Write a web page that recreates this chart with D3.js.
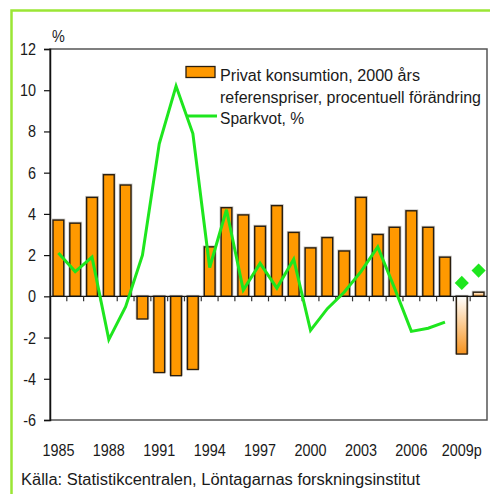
<!DOCTYPE html>
<html>
<head>
<meta charset="utf-8">
<script src="https://cdn.jsdelivr.net/npm/d3@7/dist/d3.min.js"></script>
<style>
  body { margin: 0; background: #fff; }
  text { font-family: "Liberation Sans", Arial, sans-serif; fill: #1a1a1a; }
</style>
</head>
<body>
<div id="chart"></div>
<script>
// categories (2009 and 2010 are forecasts)
var years = ['1985','1986','1987','1988','1989','1990','1991','1992','1993','1994',
  '1995','1996','1997','1998','1999','2000','2001','2002','2003','2004',
  '2005','2006','2007','2008','2009','2010'];
var tickYears = ['1985','1988','1991','1994','1997','2000','2003','2006','2009'];
var tickLabels = ['1985','1988','1991','1994','1997','2000','2003','2006','2009p'];
var yTicks = [-6, -4, -2, 0, 2, 4, 6, 8, 10, 12];

// Privat konsumtion, % change, 1985-2008
var consumption = [3.7, 3.55, 4.8, 5.9, 5.4, -1.1, -3.7, -3.85, -3.55, 2.4,
  4.3, 3.95, 3.4, 4.4, 3.1, 2.35, 2.85, 2.2, 4.8, 3.0,
  3.35, 4.15, 3.35, 1.9];
var consumptionForecast = [-2.8, 0.2];   // 2009, 2010

// Sparkvot, %, 1985-2008
var savings = [2.1, 1.2, 1.9, -2.1, -0.5, 2.0, 7.4, 10.2, 7.9, 1.4,
  4.2, 0.3, 1.6, 0.4, 1.8, -1.65, -0.6, 0.2, 1.2, 2.4,
  0.4, -1.7, -1.55, -1.25];
var savingsForecast = [0.65, 1.25];      // 2009, 2010

var W = 490, H = 494;
var orange = '#ff9900', green = '#1ee61e', dark = '#2a1e0e';

var svg = d3.select('#chart').append('svg')
  .attr('width', W).attr('height', H);

// outer green frame
svg.append('rect')
  .attr('x', 11.5).attr('y', 10.5)
  .attr('width', 490).attr('height', 490)
  .attr('fill', 'none')
  .attr('stroke', '#9be635')
  .attr('stroke-width', 2.5);

var x = d3.scaleBand().domain(years).range([50, 487])
  .paddingInner(0.36).paddingOuter(0.18);
var y = d3.scaleLinear().domain([-6, 12]).range([420, 49]);

var defs = svg.append('defs');
var grad = defs.append('linearGradient').attr('id', 'fc')
  .attr('x1', 0).attr('y1', 0).attr('x2', 0).attr('y2', 1);
grad.append('stop').attr('offset', '0%').attr('stop-color', '#ffffff');
grad.append('stop').attr('offset', '100%').attr('stop-color', '#f7931e');

// plot frame
svg.append('rect')
  .attr('x', 50).attr('y', y(12))
  .attr('width', 437).attr('height', y(-6) - y(12))
  .attr('fill', 'none').attr('stroke', '#555').attr('stroke-width', 1.5);

// narrow condensed text helper
function label(g, tx, ty, txt, anchor) {
  return g.append('text')
    .attr('transform', 'translate(' + tx + ',' + ty + ') scale(0.9,1)')
    .attr('text-anchor', anchor || 'middle')
    .attr('font-size', 16)
    .text(txt);
}

// y axis
var yAxis = svg.append('g').attr('transform', 'translate(50,0)')
  .call(d3.axisLeft(y).tickValues(yTicks).tickSize(6).tickFormat(''));
yAxis.select('.domain').attr('stroke', '#111').attr('stroke-width', 1.5);
yAxis.selectAll('.tick line').attr('stroke', '#111').attr('stroke-width', 1.2);
yTicks.forEach(function (v) {
  label(svg, 36, y(v) + 6, String(v).replace('-', '-'), 'end');
});
label(svg, 52, 42, '%', 'start');

var cData = consumption.map(function (v, i) { return { year: years[i], v: v }; });
var fData = consumptionForecast.map(function (v, i) { return { year: years[24 + i], v: v }; });

// bar shading
svg.append('g').selectAll('rect').data(cData.concat(fData)).join('rect')
  .attr('x', function (d) { return x(d.year) - 1.5; })
  .attr('y', function (d) { return Math.min(y(d.v), y(0)) - 1.5; })
  .attr('width', x.bandwidth() + 3)
  .attr('height', function (d) { return Math.abs(y(d.v) - y(0)) + 1.5; })
  .attr('fill', '#c8c8c8');

svg.append('g').selectAll('rect').data(cData).join('rect')
  .attr('x', function (d) { return x(d.year); })
  .attr('y', function (d) { return Math.min(y(d.v), y(0)); })
  .attr('width', x.bandwidth())
  .attr('height', function (d) { return Math.abs(y(d.v) - y(0)); })
  .attr('fill', orange).attr('stroke', dark).attr('stroke-width', 1.4);

svg.append('g').selectAll('rect').data(fData).join('rect')
  .attr('x', function (d) { return x(d.year); })
  .attr('y', function (d) { return Math.min(y(d.v), y(0)); })
  .attr('width', x.bandwidth())
  .attr('height', function (d) { return Math.abs(y(d.v) - y(0)); })
  .attr('fill', 'url(#fc)').attr('stroke', dark).attr('stroke-width', 1.4);

// zero line with ticks between categories
svg.append('line')
  .attr('x1', 50).attr('x2', 487).attr('y1', y(0)).attr('y2', y(0))
  .attr('stroke', '#111').attr('stroke-width', 1.3);
var step = x.step();
svg.append('g').selectAll('line').data(years.slice(1)).join('line')
  .attr('x1', function (d) { return x(d) - (step - x.bandwidth()) / 2; })
  .attr('x2', function (d) { return x(d) - (step - x.bandwidth()) / 2; })
  .attr('y1', y(0)).attr('y2', y(0) + 5)
  .attr('stroke', '#333').attr('stroke-width', 1.2);

// savings line
var sData = savings.map(function (v, i) { return { year: years[i], v: v }; });
var line = d3.line()
  .x(function (d) { return x(d.year) + x.bandwidth() / 2; })
  .y(function (d) { return y(d.v); });
svg.append('path').datum(sData)
  .attr('d', line)
  .attr('fill', 'none').attr('stroke', green)
  .attr('stroke-width', 3).attr('stroke-linejoin', 'miter');

// forecast diamonds
var sf = savingsForecast.map(function (v, i) { return { year: years[24 + i], v: v }; });
svg.append('g').selectAll('path').data(sf).join('path')
  .attr('d', d3.symbol(d3.symbolSquare, 100))
  .attr('transform', function (d) {
    return 'translate(' + (x(d.year) + x.bandwidth() / 2) + ',' + y(d.v) + ') rotate(45)';
  })
  .attr('fill', green);

// x labels
tickYears.forEach(function (yr, i) {
  label(svg, x(yr) + x.bandwidth() / 2, 456, tickLabels[i], 'middle');
});

// legend
var lg = svg.append('g');
lg.append('rect').attr('x', 186).attr('y', 66.5).attr('width', 29).attr('height', 11)
  .attr('fill', orange).attr('stroke', dark).attr('stroke-width', 1.3);
lg.append('line').attr('x1', 187).attr('x2', 217).attr('y1', 116).attr('y2', 116)
  .attr('stroke', green).attr('stroke-width', 3);
var legendLines = [
  { t: 'Privat konsumtion, 2000 års', y: 81, w: 200 },
  { t: 'referenspriser, procentuell förändring', y: 103, w: 261 },
  { t: 'Sparkvot, %', y: 124, w: 84 }
];
legendLines.forEach(function (l) {
  lg.append('text').attr('x', 220).attr('y', l.y)
    .attr('font-size', 16)
    .attr('textLength', l.w).attr('lengthAdjust', 'spacingAndGlyphs')
    .text(l.t);
});

// source
svg.append('text').attr('x', 21).attr('y', 485)
  .attr('font-size', 16)
  .attr('textLength', 399).attr('lengthAdjust', 'spacingAndGlyphs')
  .text('Källa: Statistikcentralen, Löntagarnas forskningsinstitut');
</script>
</body>
</html>
